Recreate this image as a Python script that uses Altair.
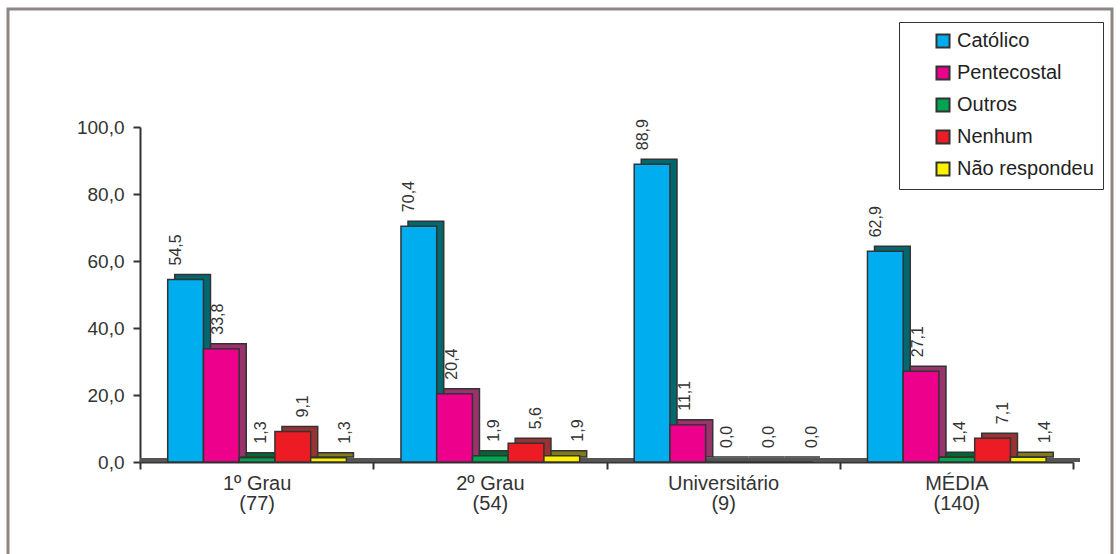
import altair as alt
import pandas as pd

# Education level groups and respondent counts
groups = ["1º Grau", "2º Grau", "Universitário", "MÉDIA"]
group_n = [77, 54, 9, 140]

# Religion categories and percentages per group
series = ["Católico", "Pentecostal", "Outros", "Nenhum", "Não respondeu"]
catolico = [54.5, 70.4, 88.9, 62.9]
pentecostal = [33.8, 20.4, 11.1, 27.1]
outros = [1.3, 1.9, 0.0, 1.4]
nenhum = [9.1, 5.6, 0.0, 7.1]
nao_respondeu = [1.3, 1.9, 0.0, 1.4]

y_ticks = [0, 20, 40, 60, 80, 100]

# Face colours and darker side colours for the box effect
front_colors = ["#00AEEF", "#EC008C", "#00A651", "#ED1C24", "#FFF200"]
side_colors = ["#00686E", "#99336B", "#006633", "#993333", "#807A1A"]

FONT = "Liberation Sans"
INK = "#333333"

group_labels = [f"{g}|({n})" for g, n in zip(groups, group_n)]
values_by_series = [catolico, pentecostal, outros, nenhum, nao_respondeu]

rows = []
for s, vals in zip(series, values_by_series):
    for g, v in zip(group_labels, vals):
        rows.append({"grupo": g, "serie": s, "valor": v,
                     "texto": f"{v:.1f}".replace(".", ",")})
df = pd.DataFrame(rows)

x_scale = alt.Scale(domain=group_labels, paddingInner=0, paddingOuter=0)
y_scale = alt.Scale(domain=[0, 100], nice=False)

x_enc = alt.X(
    "grupo:N", scale=x_scale, sort=group_labels, title=None,
    axis=alt.Axis(
        labelAngle=0, labelExpr="split(datum.label, '|')",
        labelFont=FONT, labelFontSize=20, labelColor=INK, labelLineHeight=20,
        labelPadding=4, tickBand="extent", tickSize=7, tickColor=INK,
        tickWidth=2, domainColor=INK, domainWidth=2, grid=False,
    ),
)
y_enc = alt.Y(
    "valor:Q", scale=y_scale, title=None,
    axis=alt.Axis(
        values=y_ticks, labelExpr="replace(format(datum.value, '.1f'), '.', ',')",
        labelFont=FONT, labelFontSize=19, labelColor=INK, labelPadding=9,
        tickSize=7, tickColor=INK, tickWidth=2, domainColor=INK,
        domainWidth=2, grid=False,
    ),
)

off_front = alt.Scale(domain=series, paddingInner=0, paddingOuter=0.763, align=0.508)
off_back = alt.Scale(domain=series, paddingInner=0, paddingOuter=0.763, align=0.637)

base = alt.Chart(df)

# Outer frame of the figure
frame = alt.Chart(alt.Data(values=[{}])).mark_rect(
    fill="white", fillOpacity=0, stroke="#8E8685", strokeWidth=3
).encode(
    x=alt.value(-132), x2=alt.value(972), y=alt.value(-118), y2=alt.value(440)
)

# Floor slab along the baseline
floor = alt.Chart(alt.Data(values=[{}])).mark_rule(
    color="#555555", strokeWidth=4, yOffset=-2
).encode(y=alt.datum(0, scale=y_scale), x=alt.value(0), x2=alt.value(940))

back = base.mark_bar(
    stroke=INK, strokeWidth=1.5, yOffset=-5, y2Offset=-5
).encode(
    x=x_enc,
    xOffset=alt.XOffset("serie:N", scale=off_back, sort=series),
    y=y_enc,
    y2=alt.datum(0),
    color=alt.Color("serie:N", scale=alt.Scale(domain=series, range=side_colors),
                    legend=None),
)

front = base.mark_bar(stroke=INK, strokeWidth=1.5).encode(
    x=x_enc,
    xOffset=alt.XOffset("serie:N", scale=off_front, sort=series),
    y=y_enc,
    y2=alt.datum(0),
    color=alt.Color(
        "serie:N", scale=alt.Scale(domain=series, range=front_colors), sort=series,
        legend=alt.Legend(
            title=None, orient="none", legendX=759, legendY=-105,
            labelFont=FONT, labelFontSize=20, labelColor="#222222",
            symbolType="square", symbolSize=170, symbolStrokeColor=INK,
            symbolStrokeWidth=2, symbolOffset=25, labelOffset=4,
            rowPadding=10, padding=9, strokeColor=INK, fillColor="white",
            labelLimit=300,
        ),
    ),
)

labels = base.mark_text(
    angle=270, align="left", baseline="middle", dx=14, dy=3.5,
    font=FONT, fontSize=16, color=INK,
).encode(
    x=x_enc,
    xOffset=alt.XOffset("serie:N", scale=off_front, sort=series),
    y=y_enc,
    text="texto:N",
)

chart = alt.layer(frame, floor, back, front, labels).resolve_scale(
    xOffset="independent", color="independent"
).properties(
    width=933, height=335, background="white",
    autosize=alt.AutoSizeParams(type="none"),
    padding={"left": 140, "top": 127, "right": 47, "bottom": 92},
).configure_view(stroke=None)

chart.save("out.html", embed_options={"renderer": "svg", "actions": False})
